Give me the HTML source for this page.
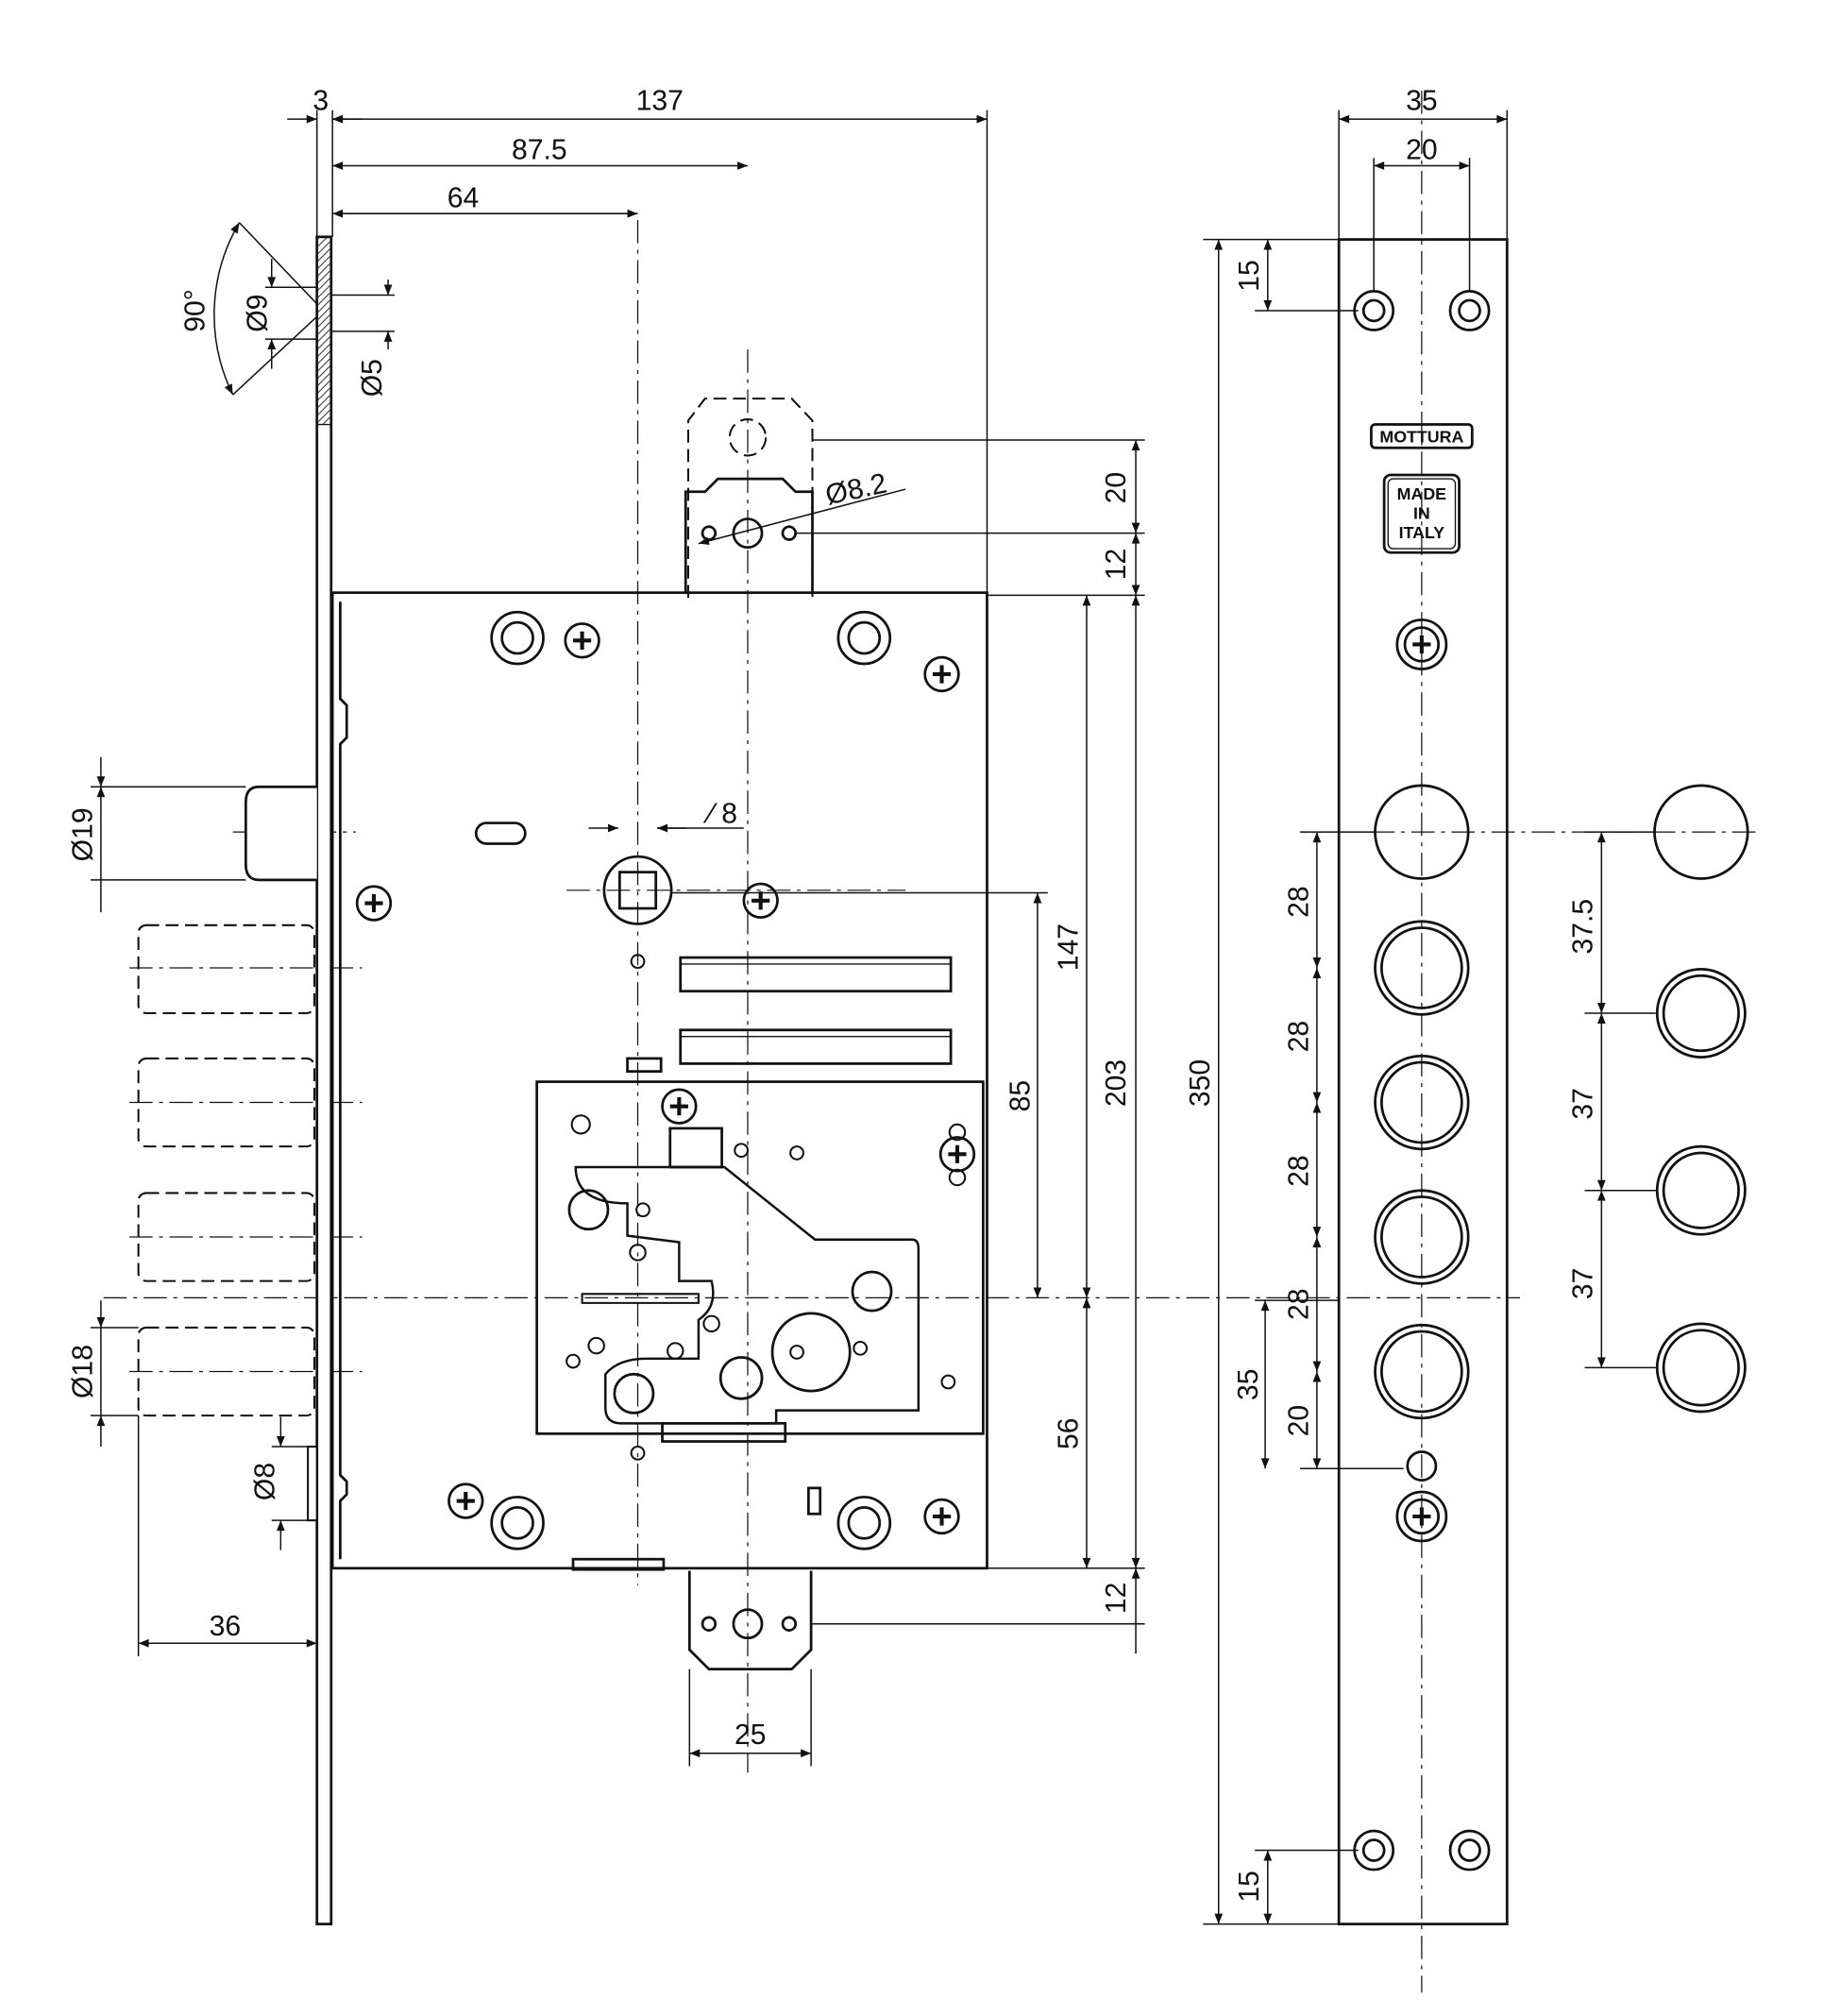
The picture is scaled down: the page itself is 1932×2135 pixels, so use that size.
<!DOCTYPE html>
<html><head><meta charset="utf-8"><style>
html,body{margin:0;padding:0;background:#fff}
svg{display:block}
text{font-family:"Liberation Sans",sans-serif;fill:#111}
</style></head><body>
<svg width="1932" height="2135" viewBox="0 0 1410 1558" xmlns="http://www.w3.org/2000/svg">
<defs>
<marker id="a" viewBox="0 0 10 10" refX="10" refY="5" markerWidth="10" markerHeight="8" orient="auto-start-reverse" markerUnits="userSpaceOnUse"><path d="M0,1 L10,5 L0,9 z" fill="#111"/></marker>
<pattern id="h" width="4" height="4" patternUnits="userSpaceOnUse" patternTransform="rotate(45)"><line x1="0" y1="0" x2="0" y2="4" stroke="#333" stroke-width="1.5"/></pattern>
<g id="s"><circle r="13"/><path d="M-7,0 H7 M0,-7 V7" stroke-width="3"/></g>
</defs>
<g fill="none" stroke="#111" stroke-width="1.1">
<line x1="257" y1="85" x2="257" y2="183"/><line x1="763" y1="85" x2="763" y2="458"/>
<line x1="245" y1="85" x2="245" y2="183"/>
<line x1="1035" y1="85" x2="1035" y2="185"/><line x1="1165" y1="85" x2="1165" y2="185"/>
<line x1="1062" y1="122" x2="1062" y2="225"/><line x1="1136" y1="122" x2="1136" y2="225"/>
<line x1="628" y1="340" x2="885" y2="340"/><line x1="615" y1="412" x2="885" y2="412"/>
<line x1="763" y1="460" x2="885" y2="460"/><line x1="763" y1="1212" x2="885" y2="1212"/>
<line x1="627" y1="1255" x2="885" y2="1255"/>
<line x1="520" y1="690" x2="810" y2="690"/>
<line x1="930" y1="185" x2="1035" y2="185"/><line x1="930" y1="1487" x2="1035" y2="1487"/>
<line x1="970" y1="240" x2="1050" y2="240"/><line x1="970" y1="1430" x2="1050" y2="1430"/>
<line x1="1005" y1="643" x2="1063" y2="643"/><line x1="1005" y1="1135" x2="1085" y2="1135"/>
<line x1="970" y1="1005" x2="1035" y2="1005"/>
<line x1="1225" y1="643" x2="1280" y2="643"/><line x1="1225" y1="783" x2="1280" y2="783"/>
<line x1="1225" y1="920" x2="1280" y2="920"/><line x1="1225" y1="1057" x2="1280" y2="1057"/>
<line x1="70" y1="608" x2="190" y2="608"/><line x1="70" y1="680" x2="190" y2="680"/>
<line x1="70" y1="1026" x2="107" y2="1026"/><line x1="70" y1="1094" x2="107" y2="1094"/>
<line x1="107" y1="1094" x2="107" y2="1280"/><line x1="210" y1="1118" x2="245" y2="1118"/><line x1="210" y1="1175" x2="245" y2="1175"/>
<line x1="533" y1="1290" x2="533" y2="1365"/><line x1="627" y1="1290" x2="627" y2="1365"/>
<line x1="222" y1="92" x2="245" y2="92" marker-end="url(#a)"/><line x1="280" y1="92" x2="257" y2="92" marker-end="url(#a)"/>
<line x1="257" y1="92" x2="763" y2="92" marker-start="url(#a)" marker-end="url(#a)"/>
<line x1="257" y1="128" x2="578" y2="128" marker-start="url(#a)" marker-end="url(#a)"/>
<line x1="257" y1="165" x2="493" y2="165" marker-start="url(#a)" marker-end="url(#a)"/>
<line x1="1035" y1="92" x2="1165" y2="92" marker-start="url(#a)" marker-end="url(#a)"/>
<line x1="1062" y1="128" x2="1136" y2="128" marker-start="url(#a)" marker-end="url(#a)"/>
<line x1="878" y1="340" x2="878" y2="412" marker-start="url(#a)" marker-end="url(#a)"/>
<line x1="878" y1="412" x2="878" y2="460" marker-start="url(#a)" marker-end="url(#a)"/>
<line x1="878" y1="460" x2="878" y2="1212" marker-start="url(#a)" marker-end="url(#a)"/>
<line x1="878" y1="1212" x2="878" y2="1278" marker-start="url(#a)"/>
<line x1="840" y1="460" x2="840" y2="1003" marker-start="url(#a)" marker-end="url(#a)"/>
<line x1="840" y1="1003" x2="840" y2="1212" marker-start="url(#a)" marker-end="url(#a)"/>
<line x1="802" y1="690" x2="802" y2="1003" marker-start="url(#a)" marker-end="url(#a)"/>
<line x1="942" y1="185" x2="942" y2="1487" marker-start="url(#a)" marker-end="url(#a)"/>
<line x1="980" y1="185" x2="980" y2="240" marker-start="url(#a)" marker-end="url(#a)"/>
<line x1="980" y1="1430" x2="980" y2="1487" marker-start="url(#a)" marker-end="url(#a)"/>
<line x1="1018" y1="643" x2="1018" y2="748" marker-start="url(#a)" marker-end="url(#a)"/>
<line x1="1018" y1="748" x2="1018" y2="852" marker-start="url(#a)" marker-end="url(#a)"/>
<line x1="1018" y1="852" x2="1018" y2="956" marker-start="url(#a)" marker-end="url(#a)"/>
<line x1="1018" y1="956" x2="1018" y2="1060" marker-start="url(#a)" marker-end="url(#a)"/>
<line x1="1018" y1="1060" x2="1018" y2="1135" marker-start="url(#a)" marker-end="url(#a)"/>
<line x1="978" y1="1005" x2="978" y2="1135" marker-start="url(#a)" marker-end="url(#a)"/>
<line x1="1238" y1="643" x2="1238" y2="783" marker-start="url(#a)" marker-end="url(#a)"/>
<line x1="1238" y1="783" x2="1238" y2="920" marker-start="url(#a)" marker-end="url(#a)"/>
<line x1="1238" y1="920" x2="1238" y2="1057" marker-start="url(#a)" marker-end="url(#a)"/>
<line x1="78" y1="585" x2="78" y2="608" marker-end="url(#a)"/><line x1="78" y1="608" x2="78" y2="705" marker-start="url(#a)"/>
<line x1="78" y1="1005" x2="78" y2="1026" marker-end="url(#a)"/><line x1="78" y1="1094" x2="78" y2="1118" marker-start="url(#a)"/>
<line x1="78" y1="1026" x2="78" y2="1094"/>
<line x1="107" y1="1270" x2="245" y2="1270" marker-start="url(#a)" marker-end="url(#a)"/>
<line x1="217" y1="1095" x2="217" y2="1118" marker-end="url(#a)"/><line x1="217" y1="1175" x2="217" y2="1198" marker-start="url(#a)"/>
<line x1="533" y1="1355" x2="627" y2="1355" marker-start="url(#a)" marker-end="url(#a)"/>
<line x1="455" y1="640" x2="478" y2="640" marker-end="url(#a)"/><line x1="530" y1="640" x2="508" y2="640" marker-end="url(#a)"/><line x1="508" y1="640" x2="575" y2="640"/>
<line x1="300" y1="216" x2="300" y2="228" marker-end="url(#a)"/><line x1="300" y1="270" x2="300" y2="256" marker-end="url(#a)"/>
<line x1="250" y1="228" x2="305" y2="228"/><line x1="250" y1="256" x2="305" y2="256"/>
<line x1="205" y1="222" x2="245" y2="222"/><line x1="205" y1="262" x2="245" y2="262"/>
<line x1="210" y1="200" x2="210" y2="222" marker-end="url(#a)"/><line x1="210" y1="285" x2="210" y2="262" marker-end="url(#a)"/>
<path d="M185,172 A140,140 0 0 0 180,305" marker-start="url(#a)" marker-end="url(#a)"/>
<line x1="185" y1="172" x2="250" y2="240"/><line x1="180" y1="305" x2="250" y2="240"/>
<line x1="540" y1="420" x2="700" y2="378" marker-start="url(#a)"/>
<g stroke-dasharray="18,5,3,5" stroke-width="0.9">
<line x1="493" y1="170" x2="493" y2="1225"/><line x1="578" y1="270" x2="578" y2="1370"/>
<line x1="80" y1="1003" x2="1175" y2="1003"/>
<line x1="1099" y1="70" x2="1099" y2="1540"/>
<line x1="438" y1="688" x2="700" y2="688"/>
<line x1="1060" y1="643" x2="1360" y2="643"/>
<line x1="100" y1="748" x2="280" y2="748"/><line x1="100" y1="852" x2="280" y2="852"/><line x1="100" y1="956" x2="280" y2="956"/><line x1="100" y1="1060" x2="280" y2="1060"/>
<line x1="180" y1="643" x2="275" y2="643"/>
</g>
</g>
<rect x="245" y="183" width="11" height="1304" fill="#fff" stroke="#111" stroke-width="2"/>
<rect x="245" y="183" width="11" height="145" fill="url(#h)" stroke="#111" stroke-width="1"/>
<rect x="238" y="1118" width="7" height="57" fill="#fff" stroke="#111" stroke-width="1.5"/>
<path d="M245,608 H200 Q190,608 190,620 V668 Q190,680 200,680 H245" fill="#fff" stroke="#111" stroke-width="2"/>
<g fill="none" stroke="#111" stroke-width="1.5" stroke-dasharray="10,5">
<rect x="107" y="715" width="136" height="68" rx="6"/>
<rect x="107" y="818" width="136" height="68" rx="6"/>
<rect x="107" y="922" width="136" height="68" rx="6"/>
<rect x="107" y="1026" width="136" height="68" rx="6"/>
<path d="M532,462 V325 L545,308 H612 L628,325 V462"/>
<circle cx="578" cy="338" r="14"/>
</g>
<g fill="none" stroke="#111" stroke-width="2">
<rect x="257" y="458" width="506" height="754"/>
<path d="M263,465 V540 L268,545 V570 L263,575 V1140 L268,1145 V1155 L263,1160 V1205"/>
<path d="M530,458 V380 H545 L555,370 H605 L615,380 H628 V458"/>
<circle cx="578" cy="412" r="11"/><circle cx="548" cy="412" r="5"/><circle cx="610" cy="412" r="5"/>
<path d="M533,1214 V1275 L548,1290 H612 L627,1275 V1214"/>
<circle cx="578" cy="1255" r="11"/><circle cx="548" cy="1255" r="5"/><circle cx="610" cy="1255" r="5"/>
<rect x="415" y="836" width="345" height="272"/>
<rect x="526" y="740" width="209" height="26"/><rect x="526" y="796" width="209" height="26"/>
<line x1="526" y1="745" x2="735" y2="745" stroke-width="1"/><line x1="526" y1="801" x2="735" y2="801" stroke-width="1"/>
<rect x="467" y="662" width="52" height="52" rx="26"/>
<rect x="479" y="674" width="28" height="28"/>
<rect x="368" y="636" width="38" height="16" rx="8"/>
<path d="M445,902 H560 L630,958 H705 Q710,958 710,965 V1090 H600 V1100 H480 Q468,1100 468,1088 V1062 Q478,1050 500,1050 H540 V1020 Q555,1010 550,990 H525 V960 L485,955 V930 Q445,930 445,902 Z" stroke-width="1.8"/>
<rect x="518" y="872" width="40" height="30"/>
<rect x="485" y="818" width="26" height="10"/>
<rect x="625" y="1150" width="9" height="20"/>
<rect x="443" y="1205" width="70" height="8"/>
<rect x="512" y="1100" width="95" height="14"/>
<circle cx="455" cy="935" r="15"/><circle cx="490" cy="1077" r="15"/><circle cx="674" cy="998" r="15"/>
<circle cx="627" cy="1045" r="30"/><circle cx="573" cy="1065" r="16"/>
</g>
<g fill="none" stroke="#111" stroke-width="1.5">
<circle cx="449" cy="869" r="7"/><circle cx="573" cy="889" r="5"/><circle cx="616" cy="891" r="5"/><circle cx="497" cy="935" r="5"/>
<circle cx="493" cy="968" r="6"/><circle cx="550" cy="1023" r="6"/><circle cx="665" cy="1042" r="5"/><circle cx="443" cy="1052" r="5"/>
<circle cx="461" cy="1040" r="6"/><circle cx="522" cy="1044" r="6"/><circle cx="616" cy="1045" r="5"/><circle cx="733" cy="1068" r="5"/>
<circle cx="493" cy="743" r="5"/><circle cx="493" cy="1123" r="5"/><circle cx="740" cy="910" r="6"/><circle cx="740" cy="875" r="6"/>
<path d="M450,1000 H540 V1007 H450 Z"/>
</g>
<g fill="none" stroke="#111" stroke-width="2">
<circle cx="400" cy="493" r="20"/><circle cx="400" cy="493" r="12"/>
<circle cx="668" cy="493" r="20"/><circle cx="668" cy="493" r="12"/>
<circle cx="400" cy="1177" r="20"/><circle cx="400" cy="1177" r="12"/>
<circle cx="668" cy="1177" r="20"/><circle cx="668" cy="1177" r="12"/>
<use href="#s" x="450" y="495"/><use href="#s" x="728" y="521"/><use href="#s" x="289" y="698"/><use href="#s" x="588" y="696"/>
<use href="#s" x="360" y="1160"/><use href="#s" x="728" y="1172"/><use href="#s" x="525" y="855"/><use href="#s" x="740" y="892"/>
</g>
<g fill="none" stroke="#111" stroke-width="2">
<rect x="1035" y="185" width="130" height="1302"/>
<circle cx="1062" cy="240" r="15"/><circle cx="1062" cy="240" r="8"/>
<circle cx="1136" cy="240" r="15"/><circle cx="1136" cy="240" r="8"/>
<circle cx="1062" cy="1430" r="15"/><circle cx="1062" cy="1430" r="8"/>
<circle cx="1136" cy="1430" r="15"/><circle cx="1136" cy="1430" r="8"/>
<circle cx="1099" cy="498" r="19"/><use href="#s" x="1099" y="498"/>
<circle cx="1099" cy="1172" r="19"/><use href="#s" x="1099" y="1172"/>
<circle cx="1099" cy="1133" r="11"/>
<rect x="1060" y="328" width="78" height="18" rx="3"/>
<rect x="1070" y="367" width="58" height="60" rx="5"/><rect x="1073" y="370" width="52" height="54" rx="4" stroke-width="1"/>
<circle cx="1099" cy="643" r="36"/>
<circle cx="1099" cy="748" r="36"/><circle cx="1099" cy="748" r="31"/>
<circle cx="1099" cy="852" r="36"/><circle cx="1099" cy="852" r="31"/>
<circle cx="1099" cy="956" r="36"/><circle cx="1099" cy="956" r="31"/>
<circle cx="1099" cy="1060" r="36"/><circle cx="1099" cy="1060" r="31"/>
<circle cx="1315" cy="643" r="36"/>
<circle cx="1315" cy="783" r="34"/><circle cx="1315" cy="783" r="29"/>
<circle cx="1315" cy="920" r="34"/><circle cx="1315" cy="920" r="29"/>
<circle cx="1315" cy="1057" r="34"/><circle cx="1315" cy="1057" r="29"/>
</g>
<g font-size="22">
<text x="248" y="85" text-anchor="middle">3</text>
<text x="510" y="85" text-anchor="middle">137</text>
<text x="417" y="123" text-anchor="middle">87.5</text>
<text x="358" y="160" text-anchor="middle">64</text>
<text x="1099" y="85" text-anchor="middle">35</text>
<text x="1099" y="123" text-anchor="middle">20</text>
<text x="174" y="1264" text-anchor="middle">36</text>
<text x="580" y="1348" text-anchor="middle">25</text>
<text x="548" y="636">⁄ 8</text>
<text x="640" y="390" transform="rotate(-12 640 390)">Ø8.2</text>
<g text-anchor="middle">
<text transform="translate(870,377) rotate(-90)">20</text>
<text transform="translate(870,436) rotate(-90)">12</text>
<text transform="translate(870,837) rotate(-90)">203</text>
<text transform="translate(833,732) rotate(-90)">147</text>
<text transform="translate(796,847) rotate(-90)">85</text>
<text transform="translate(833,1108) rotate(-90)">56</text>
<text transform="translate(870,1235) rotate(-90)">12</text>
<text transform="translate(935,837) rotate(-90)">350</text>
<text transform="translate(973,213) rotate(-90)">15</text>
<text transform="translate(973,1458) rotate(-90)">15</text>
<text transform="translate(1011,697) rotate(-90)">28</text>
<text transform="translate(1011,801) rotate(-90)">28</text>
<text transform="translate(1011,905) rotate(-90)">28</text>
<text transform="translate(1011,1008) rotate(-90)">28</text>
<text transform="translate(1011,1098) rotate(-90)">20</text>
<text transform="translate(972,1070) rotate(-90)">35</text>
<text transform="translate(1231,716) rotate(-90)">37.5</text>
<text transform="translate(1231,853) rotate(-90)">37</text>
<text transform="translate(1231,992) rotate(-90)">37</text>
<text transform="translate(71,645) rotate(-90)">Ø19</text>
<text transform="translate(71,1060) rotate(-90)">Ø18</text>
<text transform="translate(212,1145) rotate(-90)">Ø8</text>
<text transform="translate(206,242) rotate(-90)">Ø9</text>
<text transform="translate(295,292) rotate(-90)">Ø5</text>
<text transform="translate(158,240) rotate(-90)">90°</text>
</g>
</g>
<text x="1099" y="342" font-size="13" font-weight="bold" text-anchor="middle">MOTTURA</text>
<g font-size="13" font-weight="bold" text-anchor="middle"><text x="1099" y="386">MADE</text><text x="1099" y="401">IN</text><text x="1099" y="416">ITALY</text></g>
</svg>
</body></html>
